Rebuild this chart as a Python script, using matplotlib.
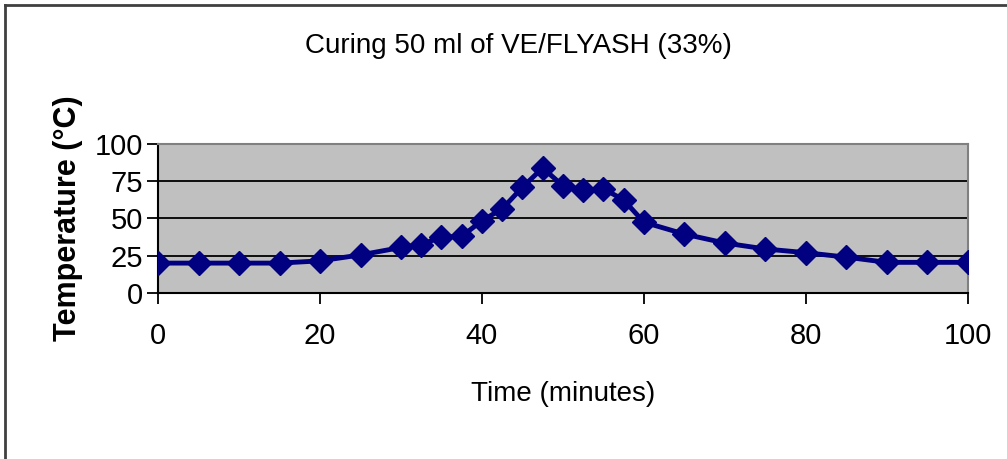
import matplotlib.pyplot as plt
from matplotlib.lines import Line2D

# cure profile: time in minutes, temperature in deg C
time_min = [0, 5, 10, 15, 20, 25, 30, 32.5, 35, 37.5, 40, 42.5, 45, 47.5,
            50, 52.5, 55, 57.5, 60, 65, 70, 75, 80, 85, 90, 95, 100]
temp_c = [20, 20, 20, 20, 21.5, 25.5, 30.5, 32.5, 37.5, 38, 48.5, 56.5, 71, 84,
          72, 69, 70, 62.5, 47.5, 39.5, 33.5, 29.5, 27, 24, 20.5, 20.5, 20.5]

x_ticks = [0, 20, 40, 60, 80, 100]
y_ticks = [0, 25, 50, 75, 100]

sans = ['Liberation Sans', 'DejaVu Sans']

fig = plt.figure(figsize=(10.07, 4.59), dpi=100)
ax = fig.add_axes([0.157, 0.362, 0.804, 0.324])
ax.set_facecolor('#c0c0c0')

ax.plot(time_min, temp_c, color='#000080', lw=3.5, marker='D', ms=12,
        mfc='#000080', mec='#000080', zorder=3)

ax.set_xlim(0, 100)
ax.set_ylim(0, 100)
ax.set_xticks(x_ticks)
ax.set_yticks(y_ticks)
ax.yaxis.grid(True, color='black', lw=1.3)
ax.set_axisbelow(True)

ax.tick_params(axis='both', direction='out', length=8, width=1.3, color='black')
ax.tick_params(axis='x', pad=13)
ax.tick_params(axis='y', pad=3)
for lab in ax.get_xticklabels() + ax.get_yticklabels():
    lab.set_family(sans)
    lab.set_fontsize(21)

for side in ('top', 'right'):
    ax.spines[side].set_color('#808080')
    ax.spines[side].set_linewidth(1.5)
for side in ('bottom', 'left'):
    ax.spines[side].set_color('black')
    ax.spines[side].set_linewidth(1.5)

ax.set_xlabel('Time (minutes)', family=sans, fontsize=20, labelpad=22)
ax.set_ylabel('Temperature (°C)', family=sans, fontweight='bold',
              fontsize=22, labelpad=8)
fig.text(0.515, 0.90, 'Curing 50 ml of VE/FLYASH (33%)', family=sans,
         fontsize=20, ha='center', va='center')

# outer chart border (top and left edges show)
fig.add_artist(Line2D([0.005, 1.0], [0.989, 0.989], transform=fig.transFigure,
                      color='#404040', lw=2))
fig.add_artist(Line2D([0.005, 0.005], [0.0, 0.989], transform=fig.transFigure,
                      color='#404040', lw=2))

fig.savefig('out.png', dpi=100, facecolor='white')
